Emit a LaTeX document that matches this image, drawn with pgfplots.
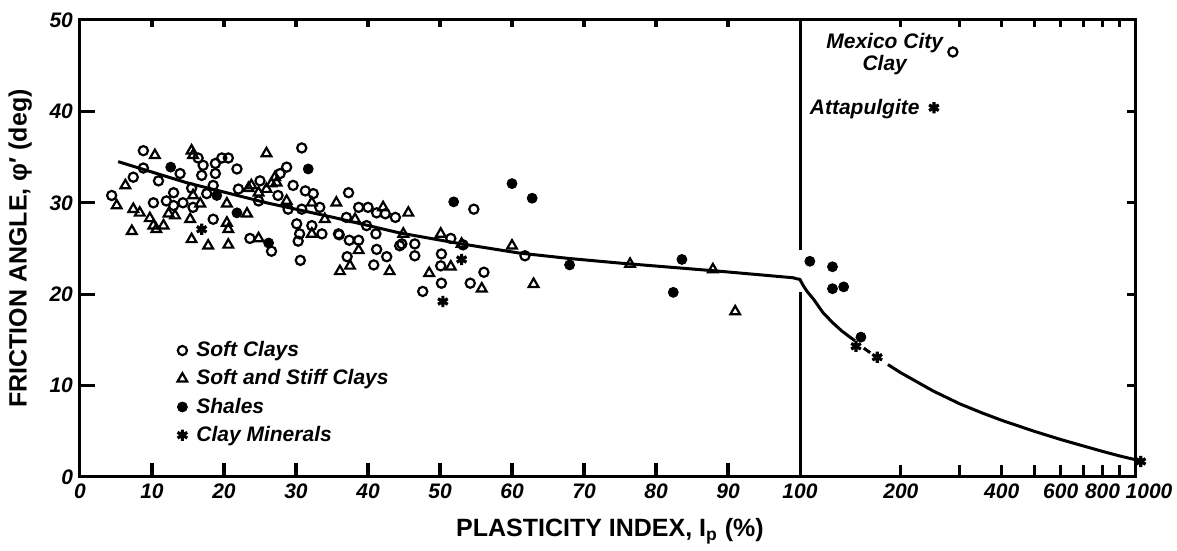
\documentclass[border=0pt]{standalone}
\usepackage{fontspec}
\setmainfont{Liberation Sans}
\usepackage{pgfplots}
\pgfplotsset{compat=1.18}

% marker styles for the four soil groups
\pgfplotsset{
  softc/.style={only marks, mark=o, mark size=2.3pt, mark options={line width=1.1pt, draw=black}},
  stiffc/.style={only marks, mark=triangle, mark size=2.8pt, mark options={line width=1.1pt, draw=black}},
  shale/.style={only marks, mark=*, mark size=2.5pt, mark options={draw=black, fill=black}},
  claymin/.style={only marks, mark=asterisk, mark size=2.8pt, mark options={line width=1.6pt, draw=black}},
  trendline/.style={black, line width=1.5pt, no marks},
  tk/.style={black, line width=1.6pt, no marks, forget plot},
  phiaxis/.style={
    scale only axis, height=228.5pt, ymin=0, ymax=50,
    axis line style={line width=1.5pt},
    tick style={draw=none},
    ticklabel style={font=\fontsize{10.5}{12}\selectfont\bfseries\itshape},
    /pgf/number format/assume math mode=true,
  },
}

\begin{document}
\begin{tikzpicture}
\begin{axis}[phiaxis, name=ax1,
  width=360pt, xmin=0, xmax=100,
  ytick pos=left,
  xtick={0,10,...,100}, ytick={0,10,...,50},
  xlabel={PLASTICITY INDEX, I\textsubscript{p} (\%)},
  ylabel={FRICTION ANGLE, φ′ (deg)},
  label style={font=\fontsize{12.5}{14}\selectfont\bfseries},
  xlabel style={at={(axis description cs:0.736,-0.131)}, anchor=base},
  ylabel style={at={(axis description cs:-0.083,0.5)}, anchor=center},
  legend style={at={(0.125,0.315)}, anchor=north west, draw=none, fill=none,
    font=\fontsize{10.5}{12.5}\selectfont\bfseries\itshape, row sep=1pt},
  legend cell align=left,
  legend image code/.code={\draw[#1] plot coordinates {(0pt,0pt)};
    \path[draw=none] (-3pt,-1pt) rectangle (5pt,1pt);},
]
% soft clays
\addplot[softc] coordinates {
(4.4,30.8) (7.4,32.8) (8.8,35.7) (8.8,33.8) (10.2,30.0) (10.9,32.4) (12.0,30.2)
(13.0,31.1) (13.9,33.2) (13.0,29.7) (14.3,30.0) (15.5,31.6) (15.7,29.5) (16.4,34.9)
(17.1,34.1) (16.9,33.0) (18.5,28.2) (17.6,31.0) (18.5,31.9) (18.8,34.3) (18.8,33.2)
(19.7,34.9) (20.6,34.9) (21.8,33.7) (22.0,31.5) (24.8,30.2) (23.6,26.1) (25.0,32.4)
(26.6,24.7) (27.5,30.8) (27.8,33.2) (28.7,33.9) (28.9,29.3) (29.6,31.9) (30.1,27.7)
(30.5,26.6) (30.3,25.8) (30.6,23.7) (30.8,36.0) (30.8,29.3) (31.3,31.3) (32.4,31.0)
(32.2,27.5) (33.3,29.5) (33.6,26.6) (35.9,26.6) (36.0,26.5) (37.0,28.4) (37.3,31.1)
(37.1,24.1) (37.4,25.9) (38.7,25.9) (38.7,29.5) (40.0,29.5) (39.8,27.5) (41.1,26.6)
(41.2,24.9) (40.8,23.2) (41.2,28.9) (42.6,24.1) (42.4,28.8) (43.8,28.4) (44.4,25.3)
(44.7,25.5) (46.5,25.5) (46.5,24.2) (50.2,24.4) (51.5,26.1) (53.2,25.4) (50.1,23.1)
(50.2,21.2) (47.6,20.3) (54.2,21.2) (56.1,22.4) (54.7,29.3) (61.8,24.2)
};
\addlegendentry{Soft Clays}
% soft and stiff clays
\addplot[stiffc] coordinates {
(5.1,29.7) (7.2,26.9) (6.3,31.9) (7.4,29.3) (8.3,28.9) (10.4,35.2) (9.7,28.3)
(10.2,27.5) (11.6,27.5) (10.6,27.1) (12.3,28.8) (13.2,28.6) (15.3,28.2) (15.5,26.0)
(15.5,35.7) (15.7,35.2) (15.7,30.8) (16.7,29.9) (17.8,25.3) (20.4,29.9) (20.4,27.8)
(20.6,27.1) (20.6,25.4) (23.2,28.8) (23.4,31.6) (23.8,31.9) (24.8,26.1) (24.8,31.1)
(25.9,35.4) (25.9,31.5) (26.6,32.1) (27.1,32.8) (27.3,32.2) (28.7,30.2) (32.2,30.0)
(32.2,26.6) (34.0,28.2) (35.6,30.0) (38.2,28.2) (36.1,22.5) (37.5,23.1) (38.7,24.8)
(42.1,29.5) (43.0,22.5) (44.9,26.6) (45.6,28.9) (48.5,22.3) (50.1,26.6) (51.5,23.0)
(53.0,25.5) (55.8,20.6) (60.0,25.3) (63.0,21.1) (76.4,23.3) (87.9,22.7) (91.0,18.1)
};
\addlegendentry{Soft and Stiff Clays}
% shales
\addplot[shale] coordinates {
(12.6,33.9) (19.0,30.8) (21.8,28.9) (26.2,25.6) (31.7,33.7) (51.9,30.1) (60.0,32.1)
(62.8,30.5) (68.0,23.2) (82.4,20.2) (83.6,23.8)
};
\addlegendentry{Shales}
% clay minerals
\addplot[claymin] coordinates {(16.9,27.1) (53.0,23.8) (50.4,19.2)};
\addlegendentry{Clay Minerals}
% gap in the divider at Ip = 100 (white over the axis border)
\addplot[white, line width=3pt, forget plot] coordinates {(100,20.2) (100,24.8)};
% trend line, linear part
\addplot[trendline, forget plot] coordinates {
(5.3,34.5) (14.8,32.2) (25.9,30.0) (35.2,28.4) (44.4,26.7) (53,25.5) (61,24.5)
(68,23.9) (75,23.4) (89,22.5) (99,21.8) (100,21.6)
};
% tick marks (long at the bottom and left, short at the top)
\pgfplotsinvokeforeach{10,20,30,40,50,60,70,80,90}{
  \addplot[tk] coordinates {(#1,0) (#1,1.53)};
  \addplot[tk] coordinates {(#1,50) (#1,49.23)};
}
\pgfplotsinvokeforeach{10,20,30,40}{
  \addplot[tk] coordinates {(0,#1) (2.08,#1)};
}
\end{axis}

\begin{axis}[phiaxis, name=ax2, clip=false,
  at={(ax1.south east)}, anchor=south west,
  width=167.5pt, xmode=log, xmin=100, xmax=1000,
  ytick pos=right,
  xtick={200,300,400,500,600,700,800,900,1000},
  xticklabels={200,,400,,600,,800,,\kern14pt 1000},
  xminorticks=false,
  ytick={10,20,30,40}, yticklabels={},
]
\addplot[white, line width=3pt] coordinates {(100,20.2) (100,24.8)};
\addplot[softc] coordinates {(286,46.5)};
\addplot[shale] coordinates {(107,23.6) (125,23.0) (125,20.6) (135,20.8) (152,15.3)};
\addplot[claymin] coordinates {(147,14.3) (170,13.1) (251,40.4) (1040,1.7)};
\addplot[trendline] coordinates {
(98,21.7) (100,21.6) (102,21.0) (105,20.3) (110,19.4) (117,18.0) (125,16.9) (133,16.0)
(141,15.3) (146,14.9)
};
\addplot[trendline] coordinates {(155,14.1) (162,13.6)};
\addplot[trendline] coordinates {
(183,12.3) (200,11.4) (250,9.4) (300,8.0) (350,7.0) (400,6.2) (500,5.0)
(600,4.1) (700,3.4) (800,2.8) (900,2.3) (1000,1.9)
};
\pgfplotsinvokeforeach{200,300,400,500,600,700,800,900}{
  \addplot[tk] coordinates {(#1,0) (#1,1.31)};
  \addplot[tk] coordinates {(#1,50) (#1,49.23)};
}
\pgfplotsinvokeforeach{10,20,30,40}{
  \addplot[tk] coordinates {(946.5,#1) (1000,#1)};
}
\node[align=center, font=\fontsize{10.5}{9}\selectfont\bfseries\itshape]
  at (axis cs:179,46.3) {Mexico City\\Clay};
\node[font=\fontsize{10.5}{12}\selectfont\bfseries\itshape]
  at (axis cs:156,40.3) {Attapulgite};
\end{axis}

\pgfresetboundingbox
\path[use as bounding box] ([shift={(-40pt,-37pt)}]ax1.south west)
  rectangle ([shift={(21pt,10pt)}]ax2.north east);
\end{tikzpicture}
\end{document}
